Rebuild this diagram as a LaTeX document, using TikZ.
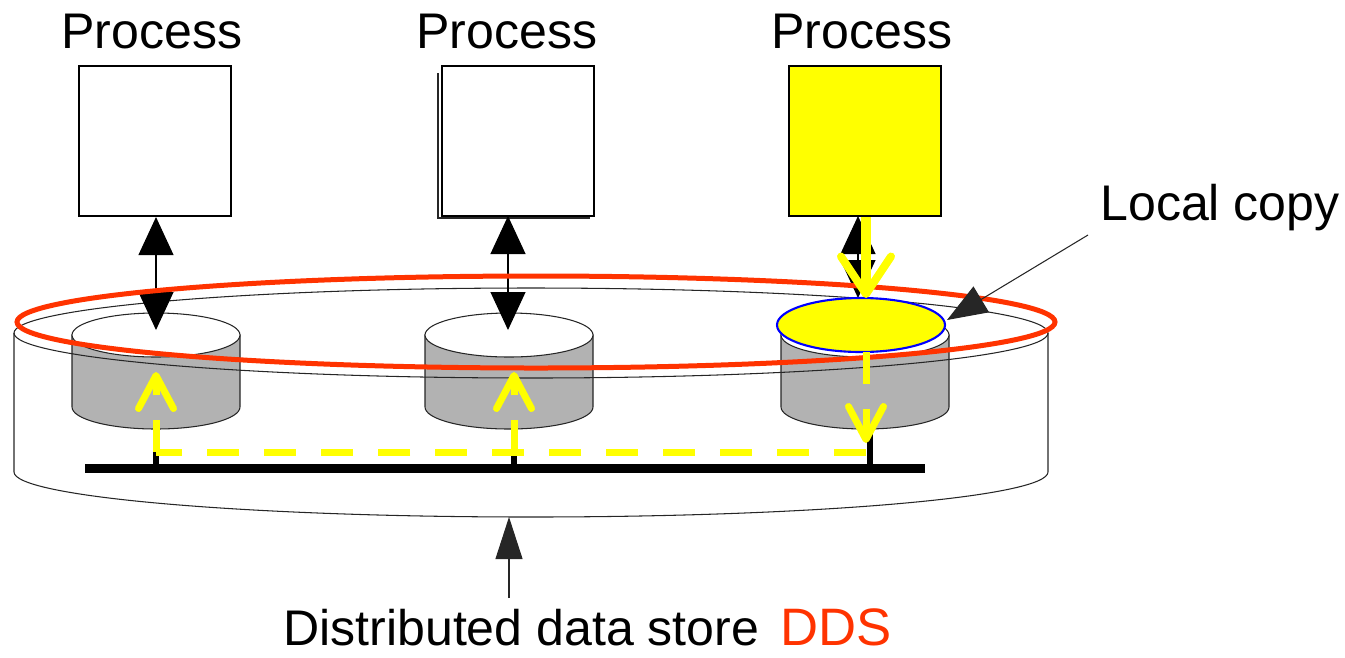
\documentclass[tikz,border=0pt]{standalone}
\usepackage{fontspec}
\setmainfont{Liberation Sans}
\usetikzlibrary{arrows.meta}
\definecolor{ddsRed}{HTML}{FF3300}
\definecolor{diskGray}{HTML}{B2B2B2}
\definecolor{copyYellow}{HTML}{FFFF00}
\tikzset{
  procBox/.style={draw, line width=1.2pt, fill=white, minimum width=3.04cm, minimum height=3cm},
  bigText/.style={font=\fontsize{28.5}{32}\selectfont, inner sep=0pt},
  thinLine/.style={line width=0.6pt, draw=black!85},
  dblArrow/.style={line width=0.6pt, {Triangle[width=0.7cm, length=0.76cm]}-{Triangle[width=0.7cm, length=0.76cm]}},
  yellowFlow/.style={copyYellow, line width=0.2cm, -{Straight Barb[length=0.75cm, width=1cm, line width=0.16cm, round]}},
  yellowDash/.style={copyYellow, line width=0.14cm, dash pattern=on 0.64cm off 0.5cm}
}
% one disk of the store: #1 = x of its centre, #2 = name of its top centre
\newcommand{\drawDiskStore}[2]{
  \filldraw[fill=diskGray, thinLine] (#1-84,335) -- (#1-84,407) arc[start angle=180, end angle=0, x radius=84, y radius=22] -- (#1+84,335) -- cycle;
  \filldraw[fill=white, thinLine] (#1,335) ellipse[x radius=84, y radius=22];
  \coordinate (#2) at (#1,335);
}

\begin{document}
\begin{tikzpicture}[x=0.02cm, y=-0.02cm]
  \useasboundingbox (0,0) rectangle (1345,657);
  % tray walls
  \draw[thinLine] (14,333) -- (14,472) arc[start angle=180, end angle=0, x radius=517, y radius=45] -- (1048,333);
  \drawDiskStore{156}{disk1}
  \drawDiskStore{509}{disk2}
  \drawDiskStore{865}{disk3}
  \draw[thinLine] (531,333) ellipse[x radius=517, y radius=45];

  % bus and taps
  \coordinate (busL) at (85,468);
  \coordinate (busR) at (925,468);
  \draw[line width=0.18cm] (busL) -- (busR);
  \foreach \tx [count=\i] in {156,514,870}{
    \coordinate (tap\i) at (\tx,468);
    \draw[line width=0.12cm] (\tx,429) -- (tap\i);
  }

  % processes
  \draw[thinLine] (438,73) -- (438,218) -- (590,218);
  \node[procBox] (proc1) at (155,141) {};
  \node[procBox] (proc2) at (518,141) {};
  \node[procBox, fill=copyYellow] (proc3) at (865,141) {};
  \node[bigText, anchor=base] (lbl1) at (152,48) {Process};
  \node[bigText, anchor=base] (lbl2) at (507,48) {Process};
  \node[bigText, anchor=base] (lbl3) at (862,48) {Process};

  \draw[dblArrow] (proc1.south -| disk1) -- ([yshift=0.1cm]disk1);
  \draw[dblArrow] (508,216) -- ([yshift=0.1cm]disk2 -| 508,0);
  \draw[dblArrow] (858,216) -- (858,298);

  \draw[ddsRed, line width=0.1cm] (536,322) ellipse[x radius=519, y radius=46];

  % local copy
  \filldraw[fill=copyYellow, draw=blue, line width=1.2pt] (861,325) ellipse[x radius=84, y radius=27];
  \coordinate (copyTop) at (866,298);
  \coordinate (copyBot) at (866,352);
  \node[bigText, anchor=base west] (lcLabel) at (1100,220) {Local copy};
  \coordinate (lcTail) at (1088,235);
  \draw[thinLine, -{Triangle[width=0.6cm, length=0.8cm]}] (lcTail) -- (947,320);

  % update flow
  \draw[yellowFlow] (proc3.south -| copyTop) -- (copyTop);
  \coordinate (hub3) at (866,452);
  \coordinate (hub2) at (514,452);
  \coordinate (hub1) at (156,452);
  \draw[yellowDash, -{Straight Barb[length=0.66cm, width=0.7cm, line width=0.14cm, round]}] (copyBot) -- (866,443);
  \draw[yellowDash] (hub3) -- (hub1);
  \draw[yellowDash, -{Straight Barb[length=0.66cm, width=0.7cm, line width=0.14cm, round]}] (hub1) -- (156,372);
  \draw[yellowDash, -{Straight Barb[length=0.66cm, width=0.7cm, line width=0.14cm, round]}] (hub2) -- (514,372);

  % store label
  \node[bigText, anchor=base west] (dsLabel) at (283,645) {Distributed data store};
  \node[font=\fontsize{30}{32}\selectfont, text=ddsRed, inner sep=0pt, anchor=base west] (ddsLabel) at (780,645) {DDS};
  \coordinate (dsTail) at (509,598);
  \coordinate (trayBot) at (509,517);
  \draw[thinLine, -{Triangle[width=0.54cm, length=0.84cm]}] (dsTail) -- (trayBot);
\end{tikzpicture}
\end{document}
